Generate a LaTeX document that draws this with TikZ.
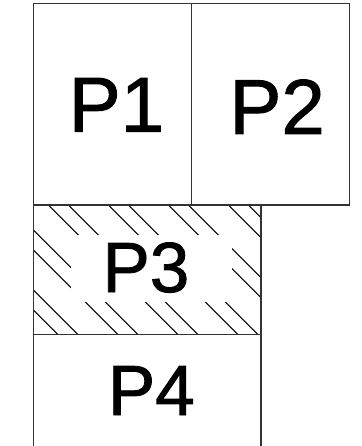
\documentclass[tikz,border=0pt]{standalone}
\usepackage{fontspec}
\setmainfont{Liberation Sans}
\newfontfamily\plabelfont{Liberation Sans}[FakeBold=1.2]
\usepackage{tikz}

\begin{document}
\begin{tikzpicture}[
    x=1pt, y=-1pt,
    wall/.style={draw=black!80, line width=1.2pt},
    hatch/.style={draw=black, line width=1pt},
    label/.style={anchor=base, inner sep=0pt, font=\plabelfont\fontsize{78}{78}\selectfont},
    smalllabel/.style={label, font=\plabelfont\fontsize{71}{71}\selectfont}
]
    \useasboundingbox (0,0) rectangle (361,446);

    % hatching of P3, with a gap behind its label
    \begin{scope}
        \clip (33.5,205) rectangle (261,334.5);
        \foreach \c in {-276.7,-256.7,-216.7,-196.7,-156.7,-136.7,-96.7,-76.7,-36.7,-16.7,23.3,43.3} {
            \draw[hatch] (\c+200,200) -- (\c+340,340);
        }
    \end{scope}
    \fill[white] (70.7,235) rectangle (231.7,301.7);

    % outlines
    \draw[wall] (33.5,446) -- (33.5,3.5) -- (349.5,3.5) -- (349.5,205) -- (33.5,205);
    \draw[wall] (191.5,3.5) -- (191.5,205);
    \draw[wall] (261,205) -- (261,446);
    \draw[wall] (33.5,334.5) -- (261,334.5);

    \node[label] (p1) at (116.4,131.7) {P1};
    \node[label] (p2) at (277.1,134) {P2};
    \node[smalllabel] (p3) at (145.9,292) {P3};
    \node[smalllabel] (p4) at (151.3,415) {P4};
\end{tikzpicture}
\end{document}
